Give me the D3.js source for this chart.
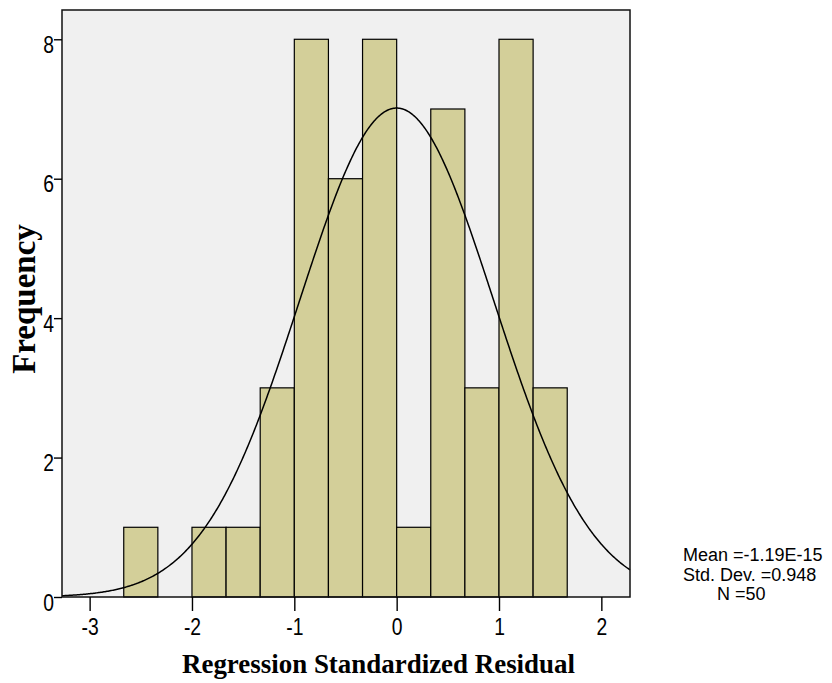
<!DOCTYPE html>
<html><head><meta charset="utf-8">
<script src="https://cdn.jsdelivr.net/npm/d3@7"></script>
<style>body{margin:0;background:#fff}</style></head>
<body><svg id="c" width="832" height="683"></svg>
<script>
// ---- data ----
const binLower = [-2.6667, -2.3333, -2.0, -1.6667, -1.3333, -1.0, -0.6667, -0.3333, 0.0, 0.3333, 0.6667, 1.0, 1.3333];
const counts   = [1, 0, 1, 1, 3, 8, 6, 8, 1, 7, 3, 8, 3];
const binWidth = 1/3;
const xTicks = [-3, -2, -1, 0, 1, 2];
const yTicks = [0, 2, 4, 6, 8];
const fitMean = -1.19e-15;
const fitSd = 0.948;
const fitN = 50;
const statLines = ["Mean =-1.19E-15", "Std. Dev. =0.948", "N =50"];
const xTitle = "Regression Standardized Residual";
const yTitle = "Frequency";

// ---- layout ----
const L = 62, R = 630, T = 10, B = 597;
const svg = d3.select("#c");
const x = d3.scaleLinear().domain([-3.27, 2.28]).range([L, R]);
const y = d3.scaleLinear().domain([0, 8.42]).range([B, T]);
const sans = "'Liberation Sans', Arial, sans-serif";
const serif = "'Liberation Serif', 'Times New Roman', serif";

svg.append("rect").attr("x", L).attr("y", T).attr("width", R - L).attr("height", B - T)
  .attr("fill", "#f0f0f0");

const bins = binLower.map((lo, i) => ({lo, hi: lo + binWidth, c: counts[i]})).filter(d => d.c > 0);
svg.append("g").selectAll("rect").data(bins).join("rect")
  .attr("x", d => x(d.lo)).attr("width", d => x(d.hi) - x(d.lo))
  .attr("y", d => y(d.c)).attr("height", d => y(0) - y(d.c))
  .attr("fill", "#d3cf99").attr("stroke", "#000").attr("stroke-width", 1.2);

// fitted normal curve
const [d0, d1] = x.domain();
const pts = d3.range(d0, d1 + 0.0001, 0.01).map(v => [v,
  fitN * binWidth * Math.exp(-0.5 * Math.pow((v - fitMean) / fitSd, 2)) / (fitSd * Math.sqrt(2 * Math.PI))]);
svg.append("path").datum(pts)
  .attr("d", d3.line().x(d => x(d[0])).y(d => y(d[1])))
  .attr("fill", "none").attr("stroke", "#000").attr("stroke-width", 1.5);

// frame
svg.append("rect").attr("x", L).attr("y", T).attr("width", R - L).attr("height", B - T)
  .attr("fill", "none").attr("stroke", "#111").attr("stroke-width", 1.5);

// axes
const ya = svg.append("g").attr("transform", `translate(${L},0)`)
  .call(d3.axisLeft(y).tickValues(yTicks).tickSize(8).tickFormat(d3.format("d")));
ya.select(".domain").remove();
ya.selectAll("line").attr("stroke", "#000").attr("stroke-width", 1.4);
ya.selectAll("text").attr("x", 0).attr("dy", null).attr("y", 13)
  .attr("text-anchor", "end").attr("transform", "translate(-8,0) scale(0.84,1)")
  .attr("font-family", sans).attr("font-size", 23).attr("fill", "#000");

const xa = svg.append("g").attr("transform", `translate(0,${B})`)
  .call(d3.axisBottom(x).tickValues(xTicks).tickSize(14).tickFormat(d3.format("d")));
xa.select(".domain").remove();
xa.selectAll("line").attr("stroke", "#000").attr("stroke-width", 1.4);
xa.selectAll("text").attr("dy", null).attr("y", 38).attr("x", 0)
  .attr("text-anchor", "middle").attr("transform", "scale(0.84,1)")
  .attr("font-family", sans).attr("font-size", 23).attr("fill", "#000");
xa.selectAll("text").text(d => String(d));
ya.selectAll("text").text(d => String(d));

// titles
svg.append("text").attr("x", 378.5).attr("y", 673).attr("text-anchor", "middle")
  .attr("font-family", serif).attr("font-weight", "bold").attr("font-size", 28)
  .attr("textLength", 393).attr("lengthAdjust", "spacingAndGlyphs").text(xTitle);
svg.append("text").attr("transform", "translate(35,299) rotate(-90)").attr("text-anchor", "middle")
  .attr("font-family", serif).attr("font-weight", "bold").attr("font-size", 33)
  .text(yTitle);

// stats
const statPos = [[683, 561], [683, 580.5], [717, 600]];
svg.append("g").selectAll("text").data(statLines).join("text")
  .attr("x", (d, i) => statPos[i][0]).attr("y", (d, i) => statPos[i][1])
  .attr("font-family", sans).attr("font-size", 18).attr("fill", "#000").text(d => d);
</script></body></html>
